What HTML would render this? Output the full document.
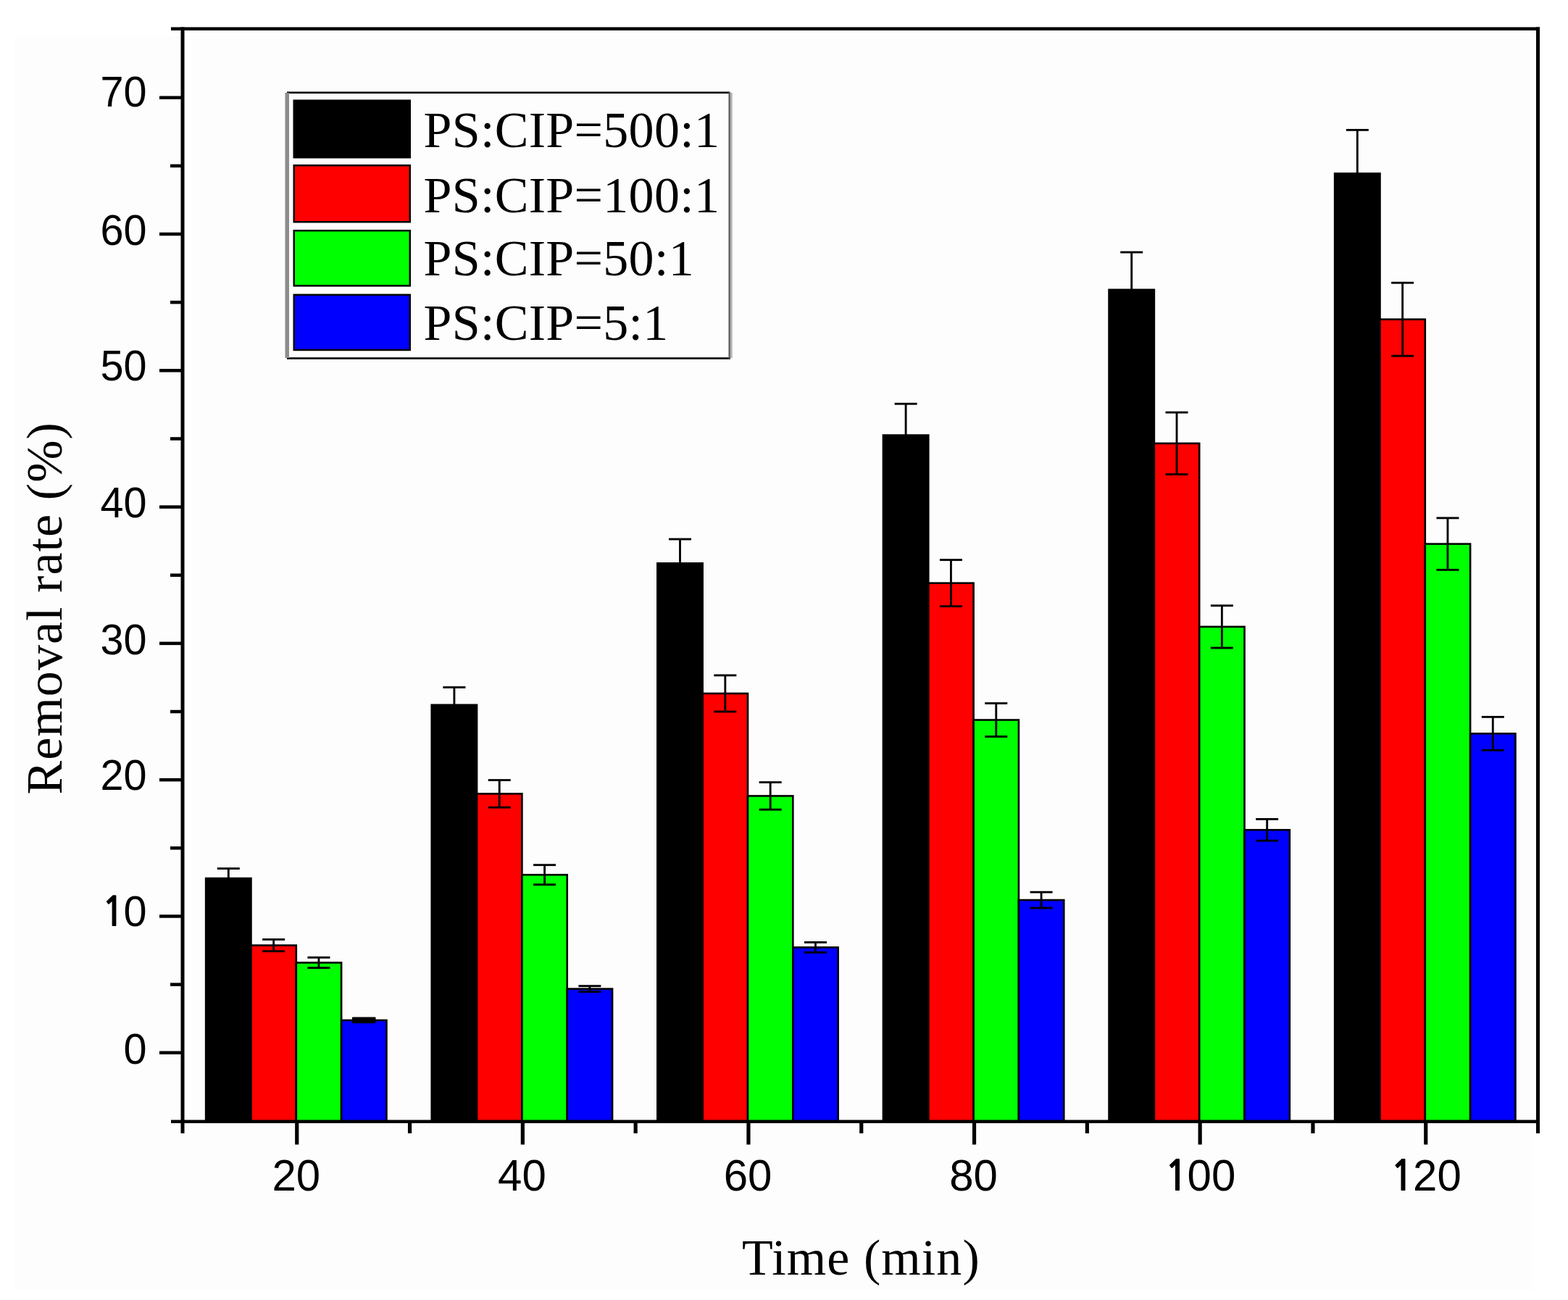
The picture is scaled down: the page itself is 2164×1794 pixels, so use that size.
<!DOCTYPE html>
<html><head><meta charset="utf-8"><title>Removal rate vs time</title>
<style>
html,body{margin:0;padding:0;background:#fff;}
body{width:2164px;height:1794px;overflow:hidden;}
svg{display:block;}
.tl{font-family:"Liberation Sans",Arial,sans-serif;font-size:60px;fill:#000;}
.one{font-family:"NanumGothic","Liberation Sans",sans-serif;font-size:56px;font-weight:bold;}
.tt{font-family:"Liberation Serif","Times New Roman",serif;font-size:70px;fill:#000;letter-spacing:1.05px;}
.lg{font-family:"Liberation Serif","Times New Roman",serif;font-size:70px;fill:#000;letter-spacing:0.3px;}
</style></head>
<body>
<svg width="2164" height="1794" viewBox="0 0 2164 1794">
<rect x="20" y="50" width="2094" height="1730" fill="#fdfdfd"/>
<rect x="284.14" y="1212.12" width="62.33" height="335.63" fill="#000000" stroke="#000" stroke-width="2.6"/>
<rect x="346.47" y="1304.57" width="62.33" height="243.18" fill="#ff0000" stroke="#000" stroke-width="2.6"/>
<rect x="408.8" y="1328.48" width="62.33" height="219.27" fill="#00ff00" stroke="#000" stroke-width="2.6"/>
<rect x="471.13" y="1407.94" width="62.33" height="139.81" fill="#0000ff" stroke="#000" stroke-width="2.6"/>
<rect x="595.74" y="972.81" width="62.33" height="574.94" fill="#000000" stroke="#000" stroke-width="2.6"/>
<rect x="658.07" y="1095.38" width="62.33" height="452.37" fill="#ff0000" stroke="#000" stroke-width="2.6"/>
<rect x="720.4" y="1207.23" width="62.33" height="340.52" fill="#00ff00" stroke="#000" stroke-width="2.6"/>
<rect x="782.73" y="1364.63" width="62.33" height="183.12" fill="#0000ff" stroke="#000" stroke-width="2.6"/>
<rect x="907.34" y="777.37" width="62.33" height="770.38" fill="#000000" stroke="#000" stroke-width="2.6"/>
<rect x="969.67" y="956.99" width="62.33" height="590.76" fill="#ff0000" stroke="#000" stroke-width="2.6"/>
<rect x="1032" y="1098.4" width="62.33" height="449.35" fill="#00ff00" stroke="#000" stroke-width="2.6"/>
<rect x="1094.33" y="1307.39" width="62.33" height="240.36" fill="#0000ff" stroke="#000" stroke-width="2.6"/>
<rect x="1218.94" y="600.57" width="62.33" height="947.18" fill="#000000" stroke="#000" stroke-width="2.6"/>
<rect x="1281.27" y="804.67" width="62.33" height="743.08" fill="#ff0000" stroke="#000" stroke-width="2.6"/>
<rect x="1343.6" y="993.52" width="62.33" height="554.23" fill="#00ff00" stroke="#000" stroke-width="2.6"/>
<rect x="1405.93" y="1242.06" width="62.33" height="305.69" fill="#0000ff" stroke="#000" stroke-width="2.6"/>
<rect x="1530.54" y="399.85" width="62.33" height="1147.9" fill="#000000" stroke="#000" stroke-width="2.6"/>
<rect x="1592.87" y="611.86" width="62.33" height="935.89" fill="#ff0000" stroke="#000" stroke-width="2.6"/>
<rect x="1655.2" y="864.92" width="62.33" height="682.83" fill="#00ff00" stroke="#000" stroke-width="2.6"/>
<rect x="1717.53" y="1145.28" width="62.33" height="402.47" fill="#0000ff" stroke="#000" stroke-width="2.6"/>
<rect x="1842.14" y="239.44" width="62.33" height="1308.31" fill="#000000" stroke="#000" stroke-width="2.6"/>
<rect x="1904.47" y="440.71" width="62.33" height="1107.04" fill="#ff0000" stroke="#000" stroke-width="2.6"/>
<rect x="1966.8" y="750.63" width="62.33" height="797.12" fill="#00ff00" stroke="#000" stroke-width="2.6"/>
<rect x="2029.13" y="1012.35" width="62.33" height="535.4" fill="#0000ff" stroke="#000" stroke-width="2.6"/>
<line x1="315.31" y1="1198.56" x2="315.31" y2="1225.68" stroke="#000" stroke-width="2.85"/>
<line x1="299.81" y1="1198.56" x2="330.81" y2="1198.56" stroke="#000" stroke-width="2.85"/>
<line x1="299.81" y1="1225.68" x2="330.81" y2="1225.68" stroke="#000" stroke-width="2.85"/>
<line x1="377.63" y1="1296.47" x2="377.63" y2="1312.67" stroke="#000" stroke-width="2.85"/>
<line x1="362.13" y1="1296.47" x2="393.13" y2="1296.47" stroke="#000" stroke-width="2.85"/>
<line x1="362.13" y1="1312.67" x2="393.13" y2="1312.67" stroke="#000" stroke-width="2.85"/>
<line x1="439.97" y1="1321.33" x2="439.97" y2="1335.64" stroke="#000" stroke-width="2.85"/>
<line x1="424.47" y1="1321.33" x2="455.47" y2="1321.33" stroke="#000" stroke-width="2.85"/>
<line x1="424.47" y1="1335.64" x2="455.47" y2="1335.64" stroke="#000" stroke-width="2.85"/>
<line x1="502.3" y1="1405.11" x2="502.3" y2="1410.76" stroke="#000" stroke-width="2.85"/>
<line x1="486.8" y1="1405.11" x2="517.8" y2="1405.11" stroke="#000" stroke-width="2.85"/>
<line x1="486.8" y1="1410.76" x2="517.8" y2="1410.76" stroke="#000" stroke-width="2.85"/>
<line x1="626.91" y1="948.52" x2="626.91" y2="997.1" stroke="#000" stroke-width="2.85"/>
<line x1="611.41" y1="948.52" x2="642.41" y2="948.52" stroke="#000" stroke-width="2.85"/>
<line x1="611.41" y1="997.1" x2="642.41" y2="997.1" stroke="#000" stroke-width="2.85"/>
<line x1="689.24" y1="1076.55" x2="689.24" y2="1114.21" stroke="#000" stroke-width="2.85"/>
<line x1="673.74" y1="1076.55" x2="704.74" y2="1076.55" stroke="#000" stroke-width="2.85"/>
<line x1="673.74" y1="1114.21" x2="704.74" y2="1114.21" stroke="#000" stroke-width="2.85"/>
<line x1="751.57" y1="1193.67" x2="751.57" y2="1220.78" stroke="#000" stroke-width="2.85"/>
<line x1="736.07" y1="1193.67" x2="767.07" y2="1193.67" stroke="#000" stroke-width="2.85"/>
<line x1="736.07" y1="1220.78" x2="767.07" y2="1220.78" stroke="#000" stroke-width="2.85"/>
<line x1="813.9" y1="1360.68" x2="813.9" y2="1368.59" stroke="#000" stroke-width="2.85"/>
<line x1="798.4" y1="1360.68" x2="829.4" y2="1360.68" stroke="#000" stroke-width="2.85"/>
<line x1="798.4" y1="1368.59" x2="829.4" y2="1368.59" stroke="#000" stroke-width="2.85"/>
<line x1="938.5" y1="744.04" x2="938.5" y2="810.69" stroke="#000" stroke-width="2.85"/>
<line x1="923" y1="744.04" x2="954" y2="744.04" stroke="#000" stroke-width="2.85"/>
<line x1="923" y1="810.69" x2="954" y2="810.69" stroke="#000" stroke-width="2.85"/>
<line x1="1000.84" y1="931.95" x2="1000.84" y2="982.03" stroke="#000" stroke-width="2.85"/>
<line x1="985.34" y1="931.95" x2="1016.34" y2="931.95" stroke="#000" stroke-width="2.85"/>
<line x1="985.34" y1="982.03" x2="1016.34" y2="982.03" stroke="#000" stroke-width="2.85"/>
<line x1="1063.16" y1="1079.57" x2="1063.16" y2="1117.22" stroke="#000" stroke-width="2.85"/>
<line x1="1047.66" y1="1079.57" x2="1078.66" y2="1079.57" stroke="#000" stroke-width="2.85"/>
<line x1="1047.66" y1="1117.22" x2="1078.66" y2="1117.22" stroke="#000" stroke-width="2.85"/>
<line x1="1125.49" y1="1300.43" x2="1125.49" y2="1314.36" stroke="#000" stroke-width="2.85"/>
<line x1="1109.99" y1="1300.43" x2="1140.99" y2="1300.43" stroke="#000" stroke-width="2.85"/>
<line x1="1109.99" y1="1314.36" x2="1140.99" y2="1314.36" stroke="#000" stroke-width="2.85"/>
<line x1="1250.11" y1="557.26" x2="1250.11" y2="643.87" stroke="#000" stroke-width="2.85"/>
<line x1="1234.61" y1="557.26" x2="1265.61" y2="557.26" stroke="#000" stroke-width="2.85"/>
<line x1="1234.61" y1="643.87" x2="1265.61" y2="643.87" stroke="#000" stroke-width="2.85"/>
<line x1="1312.43" y1="772.66" x2="1312.43" y2="836.68" stroke="#000" stroke-width="2.85"/>
<line x1="1296.93" y1="772.66" x2="1327.93" y2="772.66" stroke="#000" stroke-width="2.85"/>
<line x1="1296.93" y1="836.68" x2="1327.93" y2="836.68" stroke="#000" stroke-width="2.85"/>
<line x1="1374.77" y1="970.55" x2="1374.77" y2="1016.49" stroke="#000" stroke-width="2.85"/>
<line x1="1359.27" y1="970.55" x2="1390.27" y2="970.55" stroke="#000" stroke-width="2.85"/>
<line x1="1359.27" y1="1016.49" x2="1390.27" y2="1016.49" stroke="#000" stroke-width="2.85"/>
<line x1="1437.1" y1="1231.14" x2="1437.1" y2="1252.98" stroke="#000" stroke-width="2.85"/>
<line x1="1421.6" y1="1231.14" x2="1452.6" y2="1231.14" stroke="#000" stroke-width="2.85"/>
<line x1="1421.6" y1="1252.98" x2="1452.6" y2="1252.98" stroke="#000" stroke-width="2.85"/>
<line x1="1561.7" y1="348.08" x2="1561.7" y2="451.63" stroke="#000" stroke-width="2.85"/>
<line x1="1546.2" y1="348.08" x2="1577.2" y2="348.08" stroke="#000" stroke-width="2.85"/>
<line x1="1546.2" y1="451.63" x2="1577.2" y2="451.63" stroke="#000" stroke-width="2.85"/>
<line x1="1624.03" y1="569.12" x2="1624.03" y2="654.61" stroke="#000" stroke-width="2.85"/>
<line x1="1608.53" y1="569.12" x2="1639.53" y2="569.12" stroke="#000" stroke-width="2.85"/>
<line x1="1608.53" y1="654.61" x2="1639.53" y2="654.61" stroke="#000" stroke-width="2.85"/>
<line x1="1686.37" y1="835.74" x2="1686.37" y2="894.11" stroke="#000" stroke-width="2.85"/>
<line x1="1670.87" y1="835.74" x2="1701.87" y2="835.74" stroke="#000" stroke-width="2.85"/>
<line x1="1670.87" y1="894.11" x2="1701.87" y2="894.11" stroke="#000" stroke-width="2.85"/>
<line x1="1748.69" y1="1130.4" x2="1748.69" y2="1160.15" stroke="#000" stroke-width="2.85"/>
<line x1="1733.19" y1="1130.4" x2="1764.19" y2="1130.4" stroke="#000" stroke-width="2.85"/>
<line x1="1733.19" y1="1160.15" x2="1764.19" y2="1160.15" stroke="#000" stroke-width="2.85"/>
<line x1="1873.3" y1="179.37" x2="1873.3" y2="299.5" stroke="#000" stroke-width="2.85"/>
<line x1="1857.8" y1="179.37" x2="1888.8" y2="179.37" stroke="#000" stroke-width="2.85"/>
<line x1="1857.8" y1="299.5" x2="1888.8" y2="299.5" stroke="#000" stroke-width="2.85"/>
<line x1="1935.63" y1="390.25" x2="1935.63" y2="491.17" stroke="#000" stroke-width="2.85"/>
<line x1="1920.13" y1="390.25" x2="1951.13" y2="390.25" stroke="#000" stroke-width="2.85"/>
<line x1="1920.13" y1="491.17" x2="1951.13" y2="491.17" stroke="#000" stroke-width="2.85"/>
<line x1="1997.96" y1="714.86" x2="1997.96" y2="786.41" stroke="#000" stroke-width="2.85"/>
<line x1="1982.46" y1="714.86" x2="2013.46" y2="714.86" stroke="#000" stroke-width="2.85"/>
<line x1="1982.46" y1="786.41" x2="2013.46" y2="786.41" stroke="#000" stroke-width="2.85"/>
<line x1="2060.3" y1="989.38" x2="2060.3" y2="1035.32" stroke="#000" stroke-width="2.85"/>
<line x1="2044.8" y1="989.38" x2="2075.8" y2="989.38" stroke="#000" stroke-width="2.85"/>
<line x1="2044.8" y1="1035.32" x2="2075.8" y2="1035.32" stroke="#000" stroke-width="2.85"/>
<rect x="486" y="1403.8" width="32.5" height="8" fill="#000"/>
<rect x="236" y="37.5" width="1889" height="4.5" fill="#000"/>
<rect x="236" y="1545.5" width="1889" height="4.5" fill="#000"/>
<rect x="249.5" y="37.5" width="5" height="1526.5" fill="#000"/>
<rect x="2120" y="37.5" width="5" height="1526.5" fill="#000"/>
<rect x="220" y="1450.5" width="31" height="4.5" fill="#000"/>
<rect x="220" y="1262.21" width="31" height="4.5" fill="#000"/>
<rect x="220" y="1073.93" width="31" height="4.5" fill="#000"/>
<rect x="220" y="885.64" width="31" height="4.5" fill="#000"/>
<rect x="220" y="697.36" width="31" height="4.5" fill="#000"/>
<rect x="220" y="509.07" width="31" height="4.5" fill="#000"/>
<rect x="220" y="320.78" width="31" height="4.5" fill="#000"/>
<rect x="220" y="132.5" width="31" height="4.5" fill="#000"/>
<rect x="235" y="1356.36" width="16" height="4.5" fill="#000"/>
<rect x="235" y="1168.07" width="16" height="4.5" fill="#000"/>
<rect x="235" y="979.78" width="16" height="4.5" fill="#000"/>
<rect x="235" y="791.5" width="16" height="4.5" fill="#000"/>
<rect x="235" y="603.21" width="16" height="4.5" fill="#000"/>
<rect x="235" y="414.93" width="16" height="4.5" fill="#000"/>
<rect x="235" y="226.64" width="16" height="4.5" fill="#000"/>
<rect x="407.15" y="1548" width="5.2" height="31.5" fill="#000"/>
<rect x="718.75" y="1548" width="5.2" height="31.5" fill="#000"/>
<rect x="1030.35" y="1548" width="5.2" height="31.5" fill="#000"/>
<rect x="1341.95" y="1548" width="5.2" height="31.5" fill="#000"/>
<rect x="1653.55" y="1548" width="5.2" height="31.5" fill="#000"/>
<rect x="1965.15" y="1548" width="5.2" height="31.5" fill="#000"/>
<rect x="562.95" y="1548" width="5.2" height="16" fill="#000"/>
<rect x="874.55" y="1548" width="5.2" height="16" fill="#000"/>
<rect x="1186.15" y="1548" width="5.2" height="16" fill="#000"/>
<rect x="1497.75" y="1548" width="5.2" height="16" fill="#000"/>
<rect x="1809.35" y="1548" width="5.2" height="16" fill="#000"/>
<text transform="translate(202.5,1467.9) scale(0.96,1.0)" class="tl"><tspan x="-33.37">0</tspan></text>
<text transform="translate(202.5,1278) scale(0.96,1.0)" class="tl"><tspan class="one" x="-65.24">1</tspan><tspan x="-33.37">0</tspan></text>
<text transform="translate(202.5,1090.1) scale(0.96,1.0)" class="tl"><tspan x="-66.74">20</tspan></text>
<text transform="translate(202.5,903) scale(0.96,1.0)" class="tl"><tspan x="-66.74">30</tspan></text>
<text transform="translate(202.5,713.9) scale(0.96,1.0)" class="tl"><tspan x="-66.74">40</tspan></text>
<text transform="translate(202.5,525.1) scale(0.96,1.0)" class="tl"><tspan x="-66.74">50</tspan></text>
<text transform="translate(202.5,337.7) scale(0.96,1.0)" class="tl"><tspan x="-66.74">60</tspan></text>
<text transform="translate(202.5,147.4) scale(0.96,1.0)" class="tl"><tspan x="-66.74">70</tspan></text>
<text transform="translate(408.8,1642.5) scale(1.0,1.02)" class="tl"><tspan x="-33.37">20</tspan></text>
<text transform="translate(720.4,1642.5) scale(1.0,1.02)" class="tl"><tspan x="-33.37">40</tspan></text>
<text transform="translate(1032,1642.5) scale(1.0,1.02)" class="tl"><tspan x="-33.37">60</tspan></text>
<text transform="translate(1343.6,1642.5) scale(1.0,1.02)" class="tl"><tspan x="-33.37">80</tspan></text>
<text transform="translate(1655.2,1642.5) scale(1.0,1.02)" class="tl"><tspan class="one" x="-48.55">1</tspan><tspan x="-16.68">00</tspan></text>
<text transform="translate(1966.8,1642.5) scale(1.0,1.02)" class="tl"><tspan class="one" x="-48.55">1</tspan><tspan x="-16.68">20</tspan></text>
<text x="1024" y="1759" class="tt">Time (min)</text>
<text transform="translate(85.2,1096.5) rotate(-90)" x="0" y="0" class="tt">Removal rate (%)</text>
<rect x="396" y="126.5" width="610" height="2.6" fill="#000"/>
<rect x="396" y="493.2" width="612" height="2.6" fill="#000"/>
<rect x="393.5" y="128" width="5.5" height="366" fill="#8c8c8c"/>
<rect x="1005.5" y="126.5" width="2.3" height="369" fill="#555"/>
<rect x="1008" y="128" width="2.7" height="366" fill="#b4b4b4"/>
<rect x="405.75" y="138.75" width="160" height="78.5" fill="#000000" stroke="#000" stroke-width="2.5"/>
<rect x="405.75" y="228.25" width="160" height="78" fill="#ff0000" stroke="#000" stroke-width="2.5"/>
<rect x="405.75" y="318.25" width="160" height="76.1" fill="#00ff00" stroke="#000" stroke-width="2.5"/>
<rect x="405.75" y="406.85" width="160" height="76.1" fill="#0000ff" stroke="#000" stroke-width="2.5"/>
<text x="584.5" y="203" class="lg">PS:CIP=500:1</text>
<text x="584.5" y="292.5" class="lg">PS:CIP=100:1</text>
<text x="584.5" y="379.5" class="lg">PS:CIP=50:1</text>
<text x="584.5" y="469.2" class="lg">PS:CIP=5:1</text>
</svg>
</body></html>
